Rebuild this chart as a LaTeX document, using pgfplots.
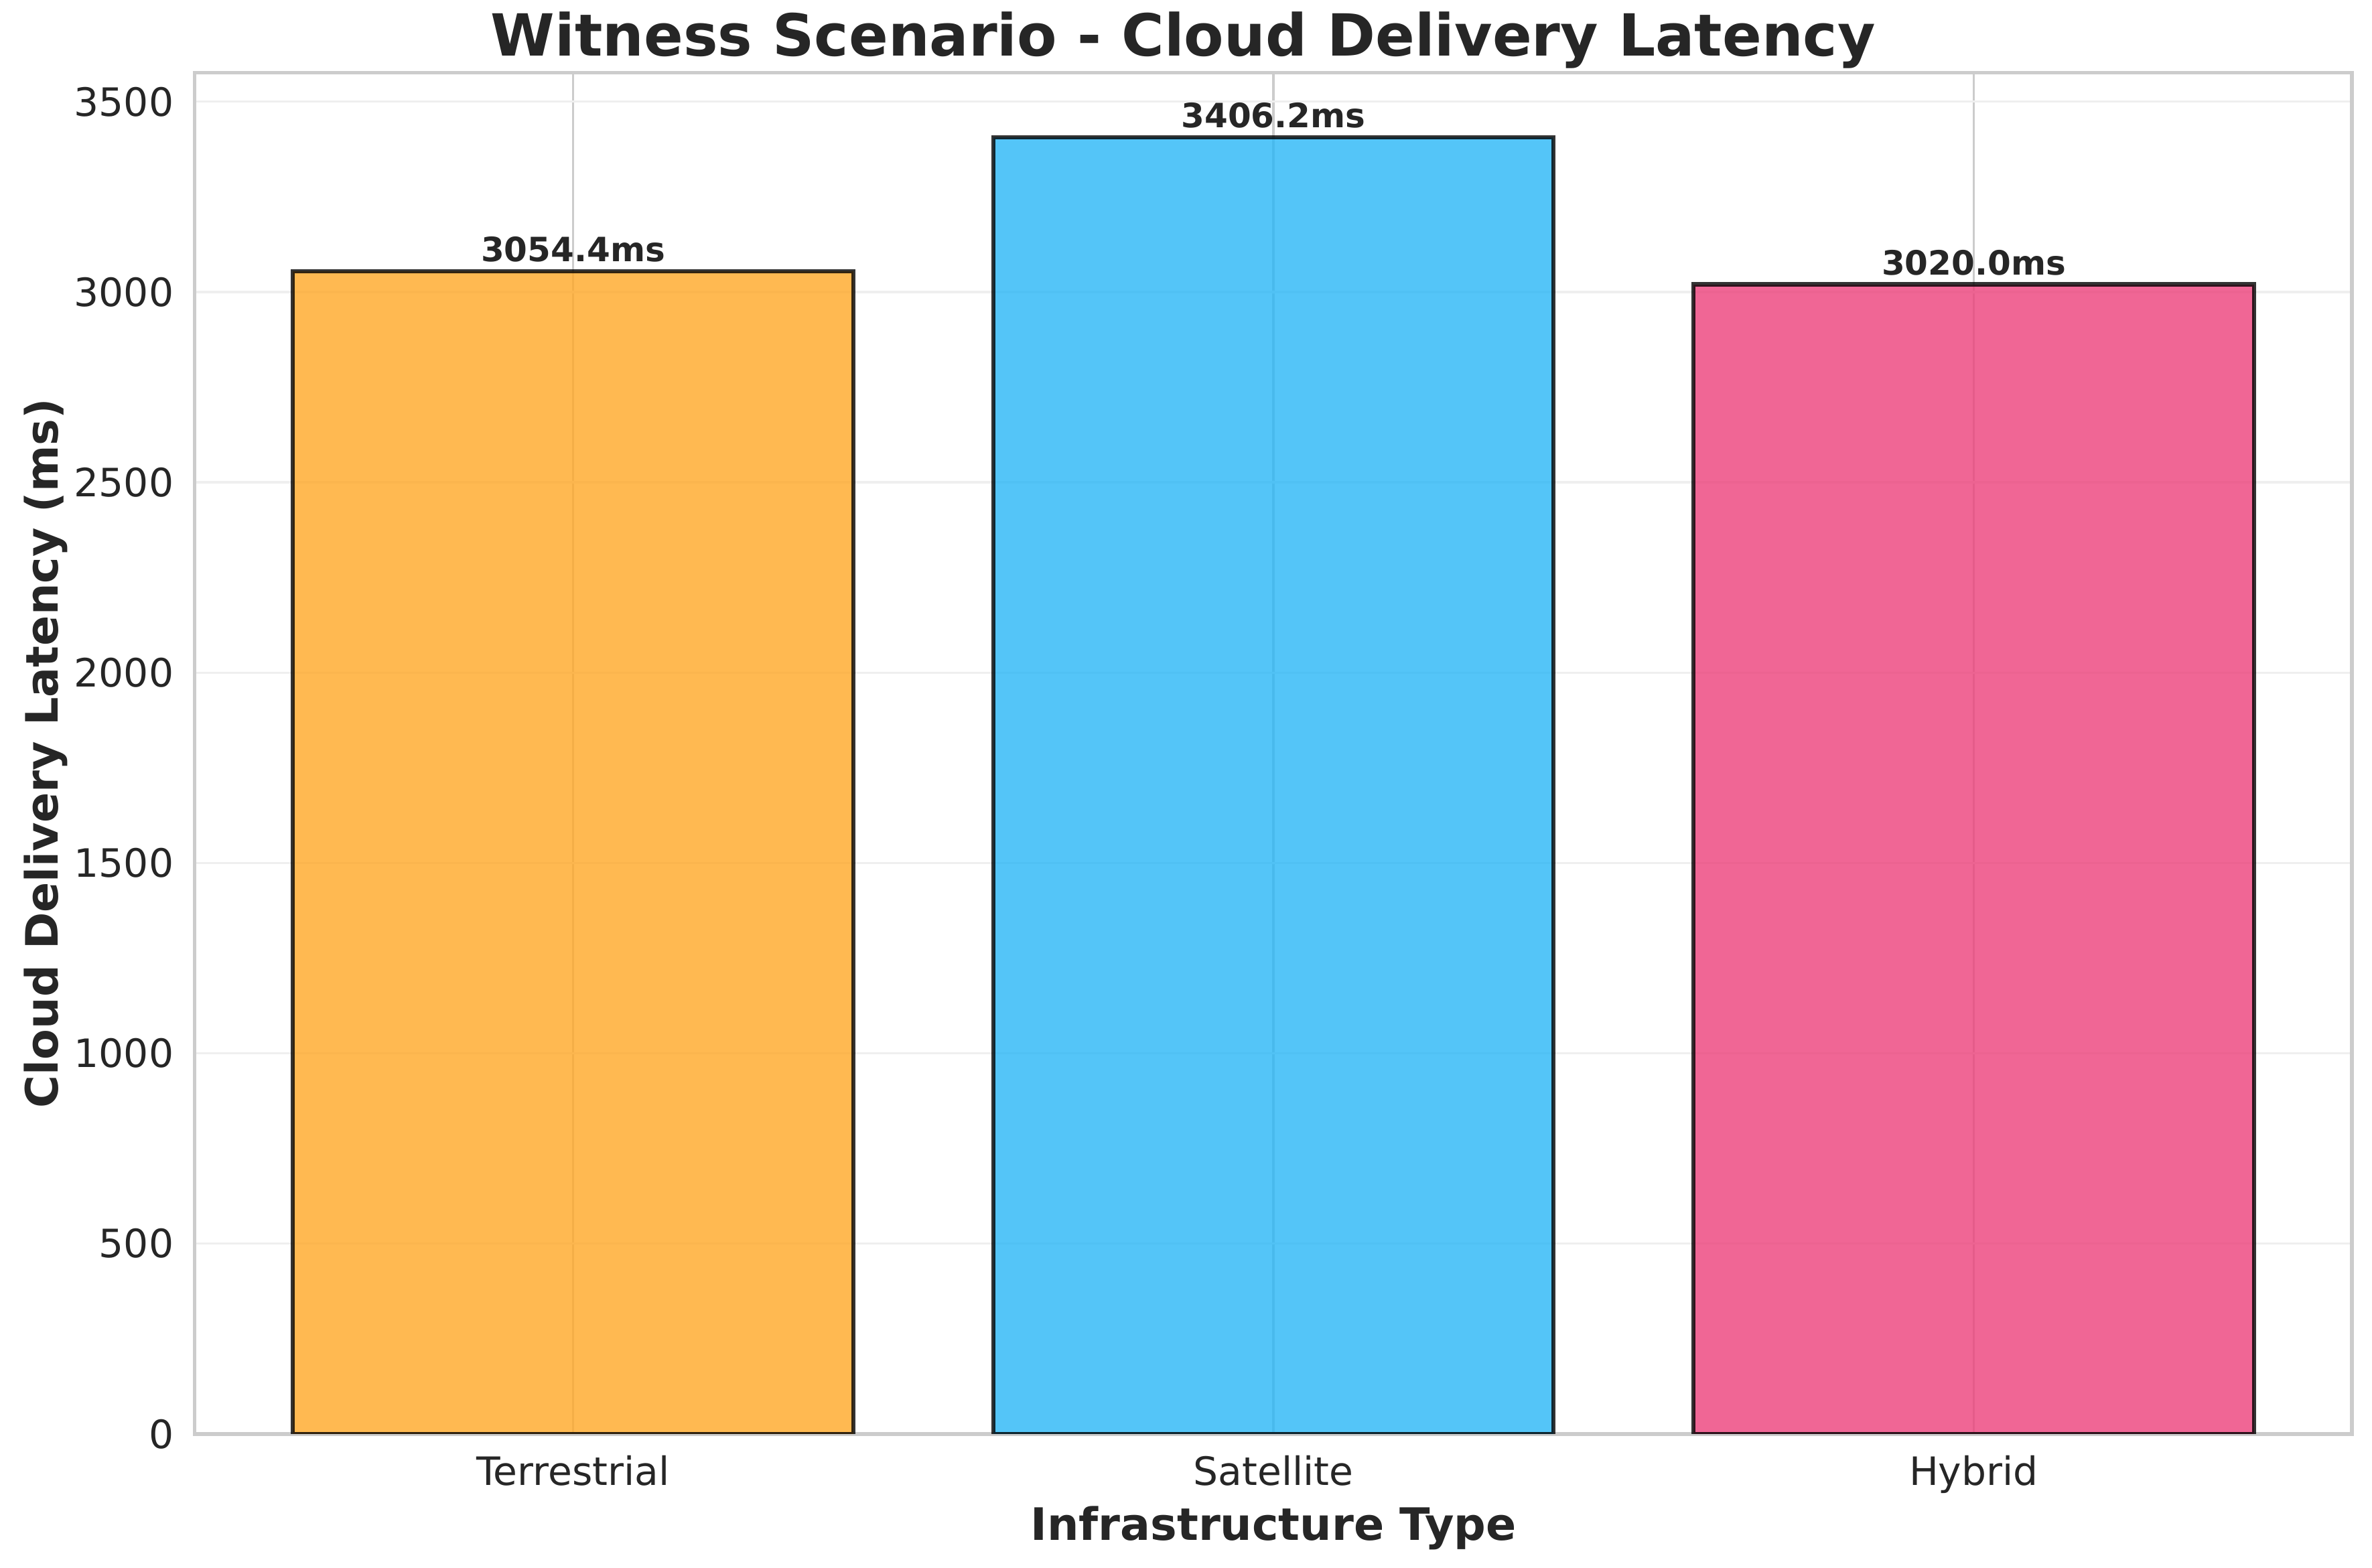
\documentclass[border=0pt]{standalone}
\usepackage{fontspec}
\setmainfont{DejaVu Sans}
\usepackage{pgfplots}
\pgfplotsset{compat=1.18}
\definecolor{cT}{HTML}{FFA726}
\definecolor{cS}{HTML}{29B6F6}
\definecolor{cH}{HTML}{EC407A}
\definecolor{txt}{HTML}{262626}
\definecolor{spine}{HTML}{CCCCCC}
\definecolor{ygrid}{HTML}{EFEFEF}
\begin{document}
\begin{tikzpicture}
\useasboundingbox (0,0) rectangle (849.8pt,561.8pt);
\begin{axis}[
 at={(69.8pt,48pt)}, anchor=south west,
 scale only axis, width=772.8pt, height=487.8pt,
 xmin=-0.54, xmax=2.54, ymin=0, ymax=3576.5,
 ybar, bar width=0.8, bar shift=0pt,
 xtick={0,1,2}, xticklabels={Terrestrial,Satellite,Hybrid},
 ytick={0,500,...,3500},
 /pgf/number format/assume math mode=true,
 /pgf/number format/1000 sep={},
 major tick length=0pt,
 tick label style={font=\fontsize{14}{16.8}\selectfont, text=txt},
 yticklabel style={anchor=east, inner sep=0pt, xshift=-7.4pt},
 xticklabel style={anchor=base, inner sep=0pt, yshift=-18.3pt},
 axis line style={spine, line width=1.25pt},
 xmajorgrids, ymajorgrids,
 x grid style={spine, line width=0.8pt},
 y grid style={ygrid, line width=0.8pt},
 title={Witness Scenario - Cloud Delivery Latency},
 title style={at={(axis description cs:0.4582,1.0)}, anchor=base, inner sep=0pt, font=\fontsize{20.8}{25}\selectfont\bfseries, text=txt},
 xlabel={Infrastructure Type},
 xlabel style={at={(axis description cs:0.5,-0.0779)}, anchor=base, inner sep=0pt, font=\fontsize{16}{19.2}\selectfont\bfseries, text=txt},
 ylabel={Cloud Delivery Latency (ms)},
 ylabel style={at={(axis description cs:-0.0692,0.5)}, anchor=center, inner sep=0pt, font=\fontsize{16}{19.2}\selectfont\bfseries, text=txt},
 nodes near coords, point meta=explicit symbolic,
 every node near coord/.append style={anchor=south, inner sep=0pt, yshift=2.5pt, font=\fontsize{12}{14.4}\selectfont\bfseries, text=txt, text opacity=1},
]
\addplot[fill=cT, draw=black, fill opacity=0.8, draw opacity=0.8, line width=1.5pt] coordinates {(0,3054.4) [3054.4ms]};
\addplot[fill=cS, draw=black, fill opacity=0.8, draw opacity=0.8, line width=1.5pt] coordinates {(1,3406.2) [3406.2ms]};
\addplot[fill=cH, draw=black, fill opacity=0.8, draw opacity=0.8, line width=1.5pt] coordinates {(2,3020.0) [3020.0ms]};
\end{axis}
\end{tikzpicture}
\end{document}
